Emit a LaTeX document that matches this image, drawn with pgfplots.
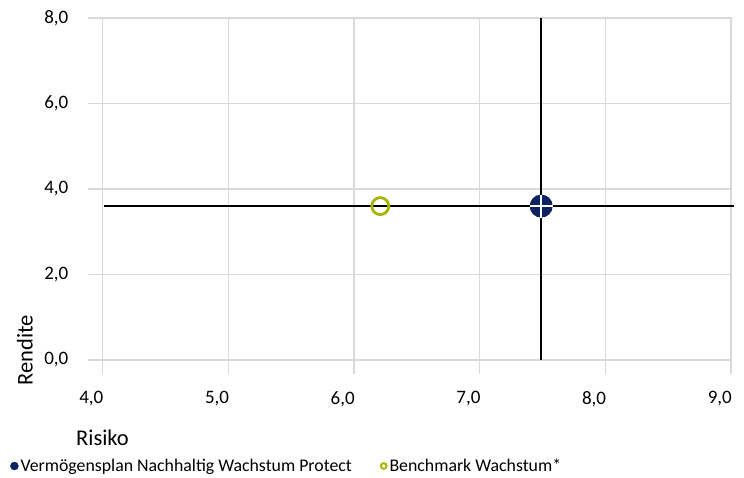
\documentclass[border=0pt]{standalone}
\usepackage{fontspec}
\setmainfont{Carlito}
\usepackage{pgfplots}
\pgfplotsset{compat=1.18}
\definecolor{navy}{HTML}{0E2160}
\definecolor{lime}{HTML}{A8B400}
\definecolor{gridc}{HTML}{D9D9D9}
\pgfdeclareplotmark{navycross}{%
  \pgfpathcircle{\pgfpointorigin}{\pgfplotmarksize}%
  \pgfsetfillcolor{navy}\pgfusepath{fill}%
  \pgfsetstrokecolor{white}\pgfsetlinewidth{1.8bp}%
  \pgfpathmoveto{\pgfpoint{-\pgfplotmarksize}{0pt}}\pgfpathlineto{\pgfpoint{\pgfplotmarksize}{0pt}}%
  \pgfpathmoveto{\pgfpoint{0pt}{-\pgfplotmarksize}}\pgfpathlineto{\pgfpoint{0pt}{\pgfplotmarksize}}%
  \pgfusepath{stroke}}
\begin{document}
\begin{tikzpicture}
\path[use as bounding box] (0,0) rectangle (744bp,478bp);
\begin{axis}[
  at={(102.5bp,118bp)}, anchor=south west,
  scale only axis, width=628.5bp, height=342bp,
  xmin=4, xmax=9, ymin=0, ymax=8,
  xtick={4,5,6,7,8,9}, ytick={0,2,4,6,8},
  axis line style={draw=gridc, line width=1.3bp},
  grid=major,
  major grid style={color=gridc, line width=1.3bp},
  xtick style={gridc, line width=1.3bp},
  ytick style={gridc, line width=1.3bp},
  tick align=outside, major tick length=14bp,
  tick pos=left,
  /pgf/number format/.cd, fixed, fixed zerofill, precision=1, use comma, assume math mode=true,
  /pgfplots/.cd,
  ticklabel style={font=\fontsize{19bp}{21bp}\selectfont, text=black},
  xticklabel style={anchor=north east, inner sep=0pt, yshift=-17bp, xshift=1bp},
  yticklabel style={anchor=east, inner sep=0pt, xshift=-20bp},
  xlabel={Risiko}, ylabel={Rendite},
  label style={font=\fontsize{22.5bp}{25bp}\selectfont},
  xlabel style={at={(axis description cs:0,-0.228)}, anchor=center},
  ylabel style={at={(axis description cs:-0.1233,0.0292)}, anchor=center},
  clip=false,
  legend columns=2,
  legend style={at={(axis description cs:-0.1472,-0.31)}, anchor=west, draw=none, fill=none,
    inner sep=0pt, font=\fontsize{17.8bp}{20bp}\selectfont,
    /tikz/every even column/.append style={column sep=26bp}},
  legend cell align=left,
]
\addplot[black, line width=1.7bp, forget plot] coordinates {(7.49,0) (7.49,8)};
\addplot[black, line width=1.5bp, forget plot] coordinates {(4.01,3.6) (9.025,3.6)};
\addplot[only marks, mark=navycross, mark size=11.5bp,
  legend image code/.code={\fill[navy] (0bp,0bp) circle (4bp);}]
  coordinates {(7.49,3.6)};
\addlegendentry{Vermögensplan Nachhaltig Wachstum Protect}
\addplot[only marks, mark=o, mark size=8.5bp, mark options={draw=lime, line width=2.8bp, fill=none},
  legend image code/.code={\draw[lime, line width=2bp] (0bp,0bp) circle (2.8bp);}]
  coordinates {(6.21,3.6)};
\addlegendentry{Benchmark Wachstum*}
\end{axis}
\end{tikzpicture}
\end{document}
